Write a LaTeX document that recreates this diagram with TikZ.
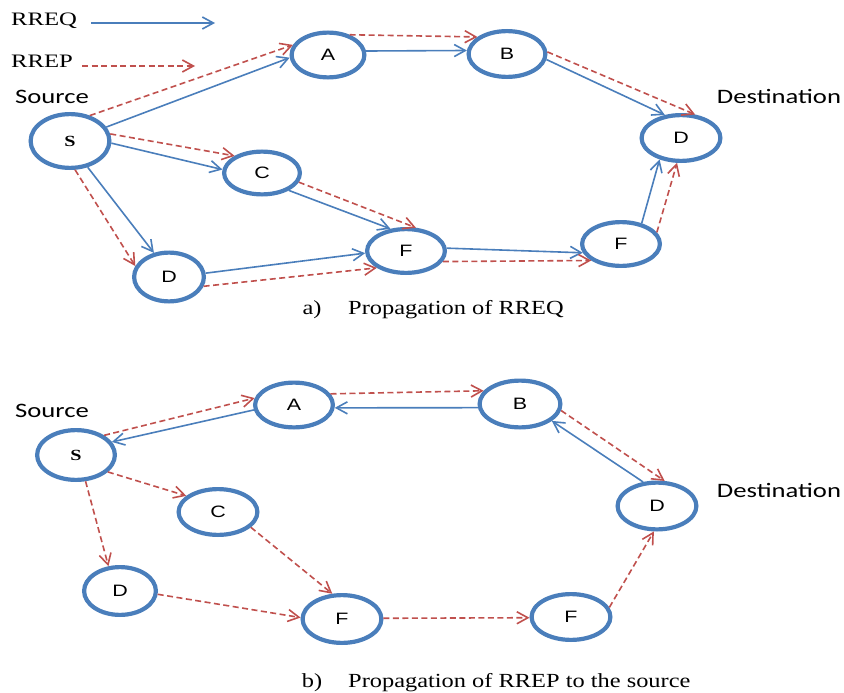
\documentclass[tikz,border=0pt]{standalone}
\usepackage{fontspec}
\usepackage{graphicx}
\setmainfont{Liberation Serif}
\newfontfamily\calfont{Carlito}
\newfontfamily\arialfont{Liberation Sans}
\usetikzlibrary{arrows.meta,shapes.geometric}
\definecolor{nblue}{HTML}{4A7EBB}
\definecolor{nred}{HTML}{C0504D}
\newcommand{\strtxt}[1]{\scalebox{1.3}[1]{#1}}
\tikzset{
  nd/.style 2 args={ellipse,draw=nblue,line width=4.2pt,inner sep=0pt,
    minimum width=#1,minimum height=#2,
    font=\arialfont\fontsize{16.5}{19}\selectfont},
  req/.style={draw=nblue,line width=1.6pt,-{Straight Barb[length=11pt,width=12pt]}},
  rep/.style={draw=nred,line width=1.6pt,dash pattern=on 6pt off 3.5pt,
    -{Straight Barb[length=11pt,width=12pt]}},
  lbl/.style={inner sep=0pt},
  cal/.style={lbl,font=\calfont\fontsize{20.5}{24}\selectfont},
  ser/.style={lbl,font=\fontsize{19}{22}\selectfont},
  captxt/.style={lbl,font=\fontsize{20}{23}\selectfont},
}
\begin{document}
\begin{tikzpicture}[x=1pt,y=-1pt]
\useasboundingbox (0,0) rectangle (844,693);

% legend
\node[ser] (tq) at (44,21) {\strtxt{RREQ}};
\node[ser] (tp) at (42,61) {\strtxt{RREP}};
\coordinate (lq1) at (91,23);
\coordinate (lq2) at (215,23);
\coordinate (lp1) at (82,66);
\coordinate (lp2) at (195,66);
\draw[req] (lq1) -- (lq2);
\draw[rep] (lp1) -- (lp2);

% ---------- top diagram ----------
\node[cal] (src1) at (52,97) {\strtxt{Source}};
\node[cal] (dst1) at (779,96) {\strtxt{Destination}};

\node[nd={78.8pt}{53.8pt}] (S1) at (70,141) {\fontsize{15.5}{18}\selectfont\rmfamily\bfseries\strtxt{S}};
\node[nd={72.8pt}{44.8pt}] (A1) at (328,55) {\strtxt{A}};
\node[nd={76.8pt}{45.8pt}] (B1) at (507,54) {\strtxt{B}};
\node[nd={75.8pt}{42.8pt}] (C1) at (262,173) {\strtxt{C}};
\node[nd={69.8pt}{48.8pt}] (D1) at (169,277) {\strtxt{D}};
\node[nd={77.8pt}{43.8pt}] (F1) at (406,251) {\strtxt{F}};
\node[nd={77.8pt}{43.8pt}] (G1) at (621,244) {\strtxt{F}};
\node[nd={78.8pt}{45.8pt}] (T1) at (681,138) {\strtxt{D}};

\draw[req] (S1.21) -- (A1.184);
\draw[rep] (S1.52) -- (A1.164);
\draw[req] (S1.-3) -- (C1.175);
\draw[rep] (S1.10) -- (C1.148);
\draw[req] (S1.-56) -- (D1.122);
\draw[rep] (S1.-80) -- (D1.162);
\draw[req] (A1.6) -- (B1.175);
\draw[rep] (A1.43) -- (B1.150);
\draw[req] (B1.-8) -- (T1.125);
\draw[rep] (B1.3) -- (T1.59);
\draw[req] (C1.-33) -- (F1.125);
\draw[rep] (C1.-14) -- (F1.67);
\draw[req] (D1.6) -- (F1.183);
\draw[rep] (D1.-15) -- (F1.210);
\draw[req] (F1.4) -- (G1.193);
\draw[rep] (F1.-16) -- (G1.209);
\draw[req] (G1.45) -- (T1.225);
\draw[rep] (G1.18) -- (T1.261);

\node[captxt] (capa1) at (312,310) {\scalebox{1.22}[1]{a)}};
\node[captxt,anchor=west] (capa2) at (348,310) {\scalebox{1.22}[1]{Propagation of RREQ}};

% ---------- bottom diagram ----------
\node[cal] (src2) at (52,411) {\strtxt{Source}};
\node[cal] (dst2) at (779,490) {\strtxt{Destination}};

\node[nd={77.8pt}{49.8pt}] (S2) at (76,455) {\fontsize{15.5}{18}\selectfont\rmfamily\bfseries\strtxt{S}};
\node[nd={77.8pt}{44.8pt}] (A2) at (294,405) {\strtxt{A}};
\node[nd={80.8pt}{46.8pt}] (B2) at (520,404) {\strtxt{B}};
\node[nd={78.8pt}{45.8pt}] (C2) at (218,512) {\strtxt{C}};
\node[nd={71.8pt}{47.8pt}] (D2) at (120,591) {\strtxt{D}};
\node[nd={78.8pt}{47.8pt}] (F2) at (342,619) {\strtxt{F}};
\node[nd={78.8pt}{45.8pt}] (G2) at (571,617) {\strtxt{F}};
\node[nd={78.8pt}{46.8pt}] (T2) at (657,506) {\strtxt{D}};

\draw[rep] (S2.35) -- (A2.170);
\draw[req] (A2.187) -- (S2.20);
\draw[rep] (A2.17) -- (B2.160);
\draw[req] (B2.185) -- (A2.-4);
\draw[rep] (B2.-9) -- (T2.73);
\draw[req] (T2.120) -- (B2.-28);
\draw[rep] (S2.-28) -- (C2.153);
\draw[rep] (S2.-70) -- (D2.115);
\draw[rep] (C2.-25) -- (F2.111);
\draw[rep] (D2.-5) -- (F2.178);
\draw[rep] (F2.1) -- (G2.181);
\draw[rep] (G2.14) -- (T2.263);

\node[captxt] (capb1) at (312,683) {\scalebox{1.22}[1]{b)}};
\node[captxt,anchor=west] (capb2) at (348,683) {\scalebox{1.22}[1]{Propagation of RREP to the source}};
\end{tikzpicture}
\end{document}
